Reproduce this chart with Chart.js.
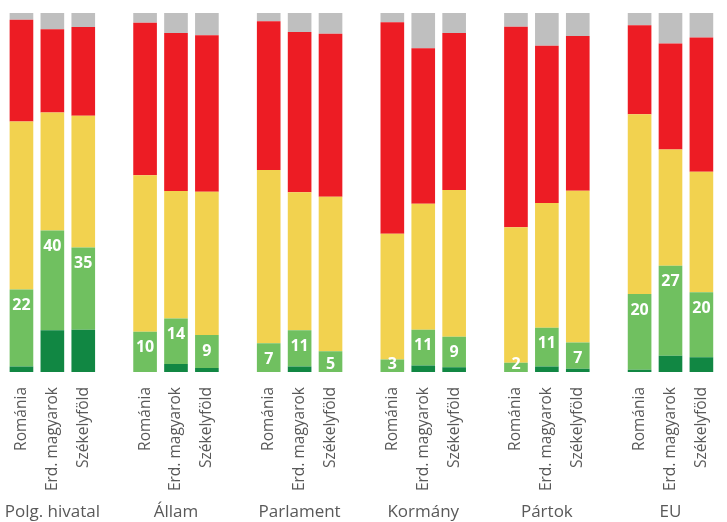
<!DOCTYPE html>
<html lang="hu">
<head>
    <meta charset="UTF-8" />
    <title>Bizalom intézményekben</title>
    <script src="https://cdn.jsdelivr.net/npm/chart.js"></script>
    <style>
        body {
            margin: 0;
            background: #fff;
            overflow: hidden;
        }

        .chart-box {
            position: relative;
            width: 735px;
            height: 522px;
        }
    </style>
</head>
<body>

<div class="chart-box">
    <canvas id="trustChart"></canvas>
</div>

<script>
    // csoportok es alcsoportok
    const groups = ['Polg. hivatal', 'Állam', 'Parlament', 'Kormány', 'Pártok', 'EU'];
    const subgroups = ['Románia', 'Erd. magyarok', 'Székelyföld'];

    // százalékok, alulról felfelé (18 oszlop, csoportonként 3)
    const darkGreen  = [1.5, 11.6, 11.8,  0,   2.2, 1.1,  0,   1.5, 0,    0,   1.8, 1.3,  0,   1.5, 0.9,  0.6, 4.5, 4.1];
    const lightGreen = [21.5, 27.8, 22.9, 11.2, 12.7, 9.2, 8.0, 10.1, 5.8, 3.5, 10.0, 8.5, 2.6, 10.8, 7.3, 21.1, 25.1, 18.1];
    const yellow     = [46.8, 32.9, 36.7, 43.6, 35.5, 39.9, 48.3, 38.5, 43.0, 35.0, 35.1, 40.9, 37.7, 34.8, 42.3, 50.1, 32.4, 33.6];
    const red        = [28.3, 23.2, 24.7, 42.5, 44.0, 43.6, 41.4, 44.6, 45.4, 58.9, 43.3, 43.7, 55.9, 43.8, 43.1, 24.8, 29.5, 37.4];
    const gray       = [1.9, 4.5, 4.0, 2.7, 5.6, 6.2, 2.3, 5.4, 5.8, 2.6, 9.8, 5.6, 3.8, 9.1, 6.4, 3.4, 8.5, 6.8];

    // a zöld szegmensre írt címkék
    const greenLabels = ['22', '40', '35', '10', '14', '9', '7', '11', '5', '3', '11', '9', '2', '11', '7', '20', '27', '20'];

    // kategóriák üres hellyel a csoportok között
    const labels = [];
    const slotOf = [];
    const withGaps = (arr) => {
        const out = [];
        groups.forEach((g, gi) => {
            subgroups.forEach((s, si) => out.push(arr[gi * 3 + si]));
            if (gi < groups.length - 1) out.push(null);
        });
        return out;
    };
    groups.forEach((g, gi) => {
        subgroups.forEach((s, si) => {
            slotOf.push(labels.length);
            labels.push(s);
        });
        if (gi < groups.length - 1) labels.push('');
    });

    const textFont = "'Open Sans', sans-serif";

    const greenLabelPlugin = {
        id: 'greenLabels',
        afterDatasetsDraw(chart) {
            const ctx = chart.ctx;
            const meta = chart.getDatasetMeta(1);
            const bottom = chart.chartArea.bottom;
            ctx.save();
            ctx.fillStyle = '#ffffff';
            ctx.font = "bold 16px " + textFont;
            ctx.textAlign = 'center';
            ctx.textBaseline = 'middle';
            slotOf.forEach((slot, i) => {
                const el = meta.data[slot];
                if (!el) return;
                const y = Math.min(el.y + 16, bottom - 8);
                ctx.fillText(greenLabels[i], el.x, y);
            });
            ctx.restore();
        }
    };

    const groupLabelPlugin = {
        id: 'groupLabels',
        afterDraw(chart) {
            const ctx = chart.ctx;
            const xScale = chart.scales.x;
            ctx.save();
            ctx.fillStyle = '#595959';
            ctx.font = "17px " + textFont;
            ctx.textAlign = 'center';
            ctx.textBaseline = 'middle';
            groups.forEach((g, gi) => {
                const x = xScale.getPixelForValue(slotOf[gi * 3 + 1]);
                ctx.fillText(g, x, 512);
            });
            ctx.restore();
        }
    };

    const common = {
        stack: 's',
        borderWidth: 0,
        categoryPercentage: 0.765,
        barPercentage: 1
    };

    new Chart(document.getElementById('trustChart'), {
        type: 'bar',
        data: {
            labels: labels,
            datasets: [
                { ...common, label: 'sötétzöld', data: withGaps(darkGreen),  backgroundColor: '#118743' },
                { ...common, label: 'világoszöld', data: withGaps(lightGreen), backgroundColor: '#70c060' },
                { ...common, label: 'sárga', data: withGaps(yellow), backgroundColor: '#f2d24f' },
                { ...common, label: 'piros', data: withGaps(red), backgroundColor: '#ed1c24' },
                { ...common, label: 'szürke', data: withGaps(gray), backgroundColor: '#bfbfbf' }
            ]
        },
        options: {
            responsive: true,
            maintainAspectRatio: false,
            animation: false,
            layout: {
                padding: { left: 6, right: 0, top: 13, bottom: 0 }
            },
            plugins: {
                legend: { display: false },
                tooltip: { enabled: false }
            },
            scales: {
                x: {
                    stacked: true,
                    grid: { display: false, drawTicks: false },
                    border: { display: false },
                    ticks: {
                        autoSkip: false,
                        maxRotation: 90,
                        minRotation: 90,
                        padding: 15,
                        color: '#595959',
                        font: { family: textFont, size: 15.5 }
                    },
                    afterFit(scale) {
                        scale.height = 150;
                    }
                },
                y: {
                    stacked: true,
                    display: false,
                    min: 0,
                    max: 100
                }
            }
        },
        plugins: [greenLabelPlugin, groupLabelPlugin]
    });
</script>

</body>
</html>
